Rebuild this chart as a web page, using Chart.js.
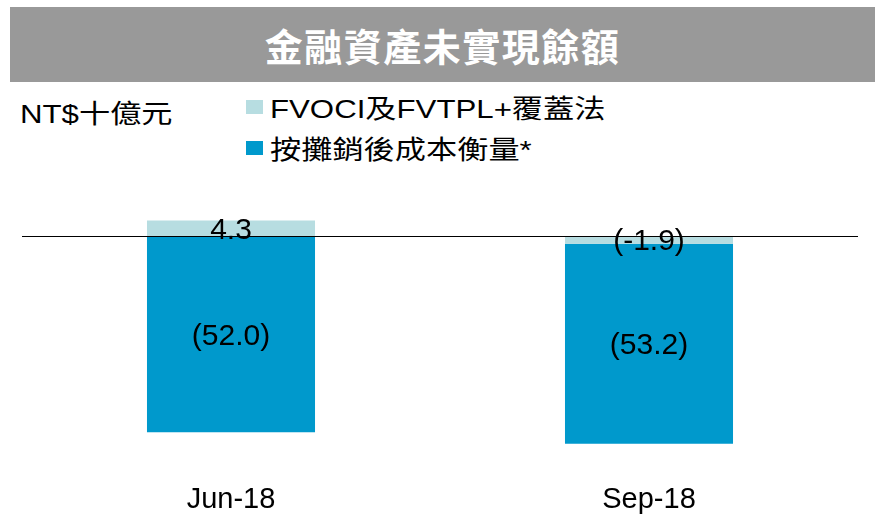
<!DOCTYPE html>
<html>
<head>
<meta charset="utf-8">
<script src="https://cdn.jsdelivr.net/npm/chart.js@4/dist/chart.umd.min.js"></script>
<style>
  body { margin: 0; background: #fff; font-family: "Liberation Sans", "Noto Sans CJK TC", sans-serif; }
  #wrap { position: relative; width: 875px; height: 517px; overflow: hidden; }
  #title {
    position: absolute; left: 10px; top: 7px; width: 865px; height: 75px;
    background: #999999; color: #fff; font-family: "Noto Sans CJK TC", sans-serif;
    font-weight: bold; font-size: 38px; line-height: 75px; text-align: center; letter-spacing: 1.5px;
  }
  #unit {
    position: absolute; left: 20px; top: 97px; font-size: 26px; line-height: 34px;
    white-space: nowrap; transform: scaleX(1.2); transform-origin: left center;
  }
  #legend { position: absolute; left: 246px; top: 86px; }
  .item { display: flex; align-items: center; height: 41px; font-size: 26px; white-space: nowrap; }
  .item .txt { display: inline-block; transform: scaleX(1.2); transform-origin: left center; }
  .box { width: 17px; height: 14px; margin-right: 7px; }
  canvas { position: absolute; left: 0; top: 0; }
</style>
</head>
<body>
<div id="wrap">
  <div id="title">金融資產未實現餘額</div>
  <div id="unit">NT$十億元</div>
  <div id="legend"></div>
  <canvas id="chart" width="875" height="523"></canvas>
</div>
<script>
// periods and the two unrealised components (NT$ billion)
const periods = ['Jun-18', 'Sep-18'];
const seriesNames = ['FVOCI及FVTPL+覆蓋法', '按攤銷後成本衡量*'];
const fvociValues = [4.3, -1.9];
const amortisedValues = [-52.0, -53.2];
const fvociLabels = ['4.3', '(-1.9)'];
const amortisedLabels = ['(52.0)', '(53.2)'];
const colors = ['#B7DDE1', '#0099CC'];

// legend built from the series names and colours
const legend = document.getElementById('legend');
seriesNames.forEach((name, i) => {
  const row = document.createElement('div');
  row.className = 'item';
  row.innerHTML = `<span class="box" style="background:${colors[i]}"></span><span class="txt">${name}</span>`;
  legend.appendChild(row);
});

const labelSets = [fvociLabels, amortisedLabels];

// zero line on top of the bars, then the value text centred in each segment
const overlay = {
  id: 'overlay',
  afterDatasetsDraw(chart) {
    const { ctx, chartArea, scales } = chart;
    const y0 = Math.round(scales.y.getPixelForValue(0)) - 0.5;
    ctx.save();
    ctx.strokeStyle = '#000';
    ctx.lineWidth = 1;
    ctx.beginPath();
    ctx.moveTo(chartArea.left, y0);
    ctx.lineTo(chartArea.right, y0);
    ctx.stroke();

    ctx.font = '30px "Liberation Sans", Arial, sans-serif';
    ctx.fillStyle = '#000';
    ctx.textAlign = 'center';
    ctx.textBaseline = 'middle';
    chart.data.datasets.forEach((ds, di) => {
      chart.getDatasetMeta(di).data.forEach((bar, i) => {
        const cy = (bar.y + bar.base) / 2;
        ctx.fillText(labelSets[di][i], bar.x, cy + 2);
      });
    });
    ctx.restore();
  }
};

new Chart(document.getElementById('chart'), {
  type: 'bar',
  data: {
    labels: periods,
    datasets: [
      { label: seriesNames[0], data: fvociValues, backgroundColor: colors[0] },
      { label: seriesNames[1], data: amortisedValues, backgroundColor: colors[1] }
    ]
  },
  options: {
    responsive: false,
    animation: false,
    layout: { padding: { left: 22, right: 17, top: 199, bottom: 0 } },
    datasets: { bar: { categoryPercentage: 1, barPercentage: 0.402 } },
    plugins: { legend: { display: false }, tooltip: { enabled: false } },
    scales: {
      x: {
        stacked: true,
        grid: { display: false, drawTicks: false },
        border: { display: false },
        ticks: {
          padding: 6,
          color: '#000',
          font: { family: '"Liberation Sans", Arial, sans-serif', size: 29 }
        }
      },
      y: {
        stacked: true,
        display: false,
        min: -63.7,
        max: 10
      }
    }
  },
  plugins: [overlay]
});
</script>
</body>
</html>
